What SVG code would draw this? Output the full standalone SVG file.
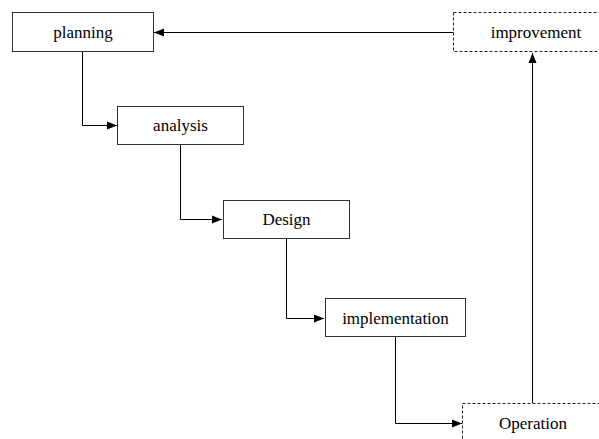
<svg xmlns="http://www.w3.org/2000/svg" width="599" height="439" viewBox="0 0 599 439">
<style>
.box{fill:#fff;stroke:#333;stroke-width:1}
.dash{fill:#fff;stroke:#222;stroke-width:1;stroke-dasharray:3 2}
.lbl{font-family:"Liberation Serif","Times New Roman",serif;font-size:17px;fill:#000;text-anchor:middle}
.edge{fill:none;stroke:#000;stroke-width:1}
</style>
<defs>
<marker id="arr" viewBox="0 0 10 10" refX="10" refY="5" markerWidth="10" markerHeight="10" markerUnits="userSpaceOnUse" orient="auto">
<path d="M0,1 L10,5 L0,9 Z" fill="#000"/>
</marker>
</defs>
<rect width="599" height="439" fill="#fff"/>
<g id="connectors">
<path class="edge" d="M453.5,32.5 H154" marker-end="url(#arr)"/>
<path class="edge" d="M82.5,51 V125.5 H117" marker-end="url(#arr)"/>
<path class="edge" d="M180.5,145 V219.5 H222" marker-end="url(#arr)"/>
<path class="edge" d="M286.5,239 V318.5 H324" marker-end="url(#arr)"/>
<path class="edge" d="M395.5,337 V423.5 H462" marker-end="url(#arr)"/>
<path class="edge" d="M532.5,403 V53" stroke="#444" marker-end="url(#arr)"/>
</g>
<g id="planning">
<rect class="box" x="12.5" y="12.5" width="141" height="39"/>
<text class="lbl" x="83" y="38">planning</text>
</g>
<g id="analysis">
<rect class="box" x="117.5" y="106.5" width="126" height="38"/>
<text class="lbl" x="180.5" y="131">analysis</text>
</g>
<g id="design">
<rect class="box" x="223.5" y="200.5" width="126" height="38"/>
<text class="lbl" x="286.5" y="225">Design</text>
</g>
<g id="implementation">
<rect class="box" x="325.5" y="298.5" width="140" height="38"/>
<text class="lbl" x="395.5" y="323.5">implementation</text>
</g>
<g id="operation">
<rect class="dash" x="462.5" y="403.5" width="160" height="60"/>
<text class="lbl" x="533" y="429">Operation</text>
</g>
<g id="improvement">
<rect class="dash" x="453.5" y="12.5" width="170" height="39"/>
<text class="lbl" x="536" y="38">improvement</text>
</g>
</svg>
